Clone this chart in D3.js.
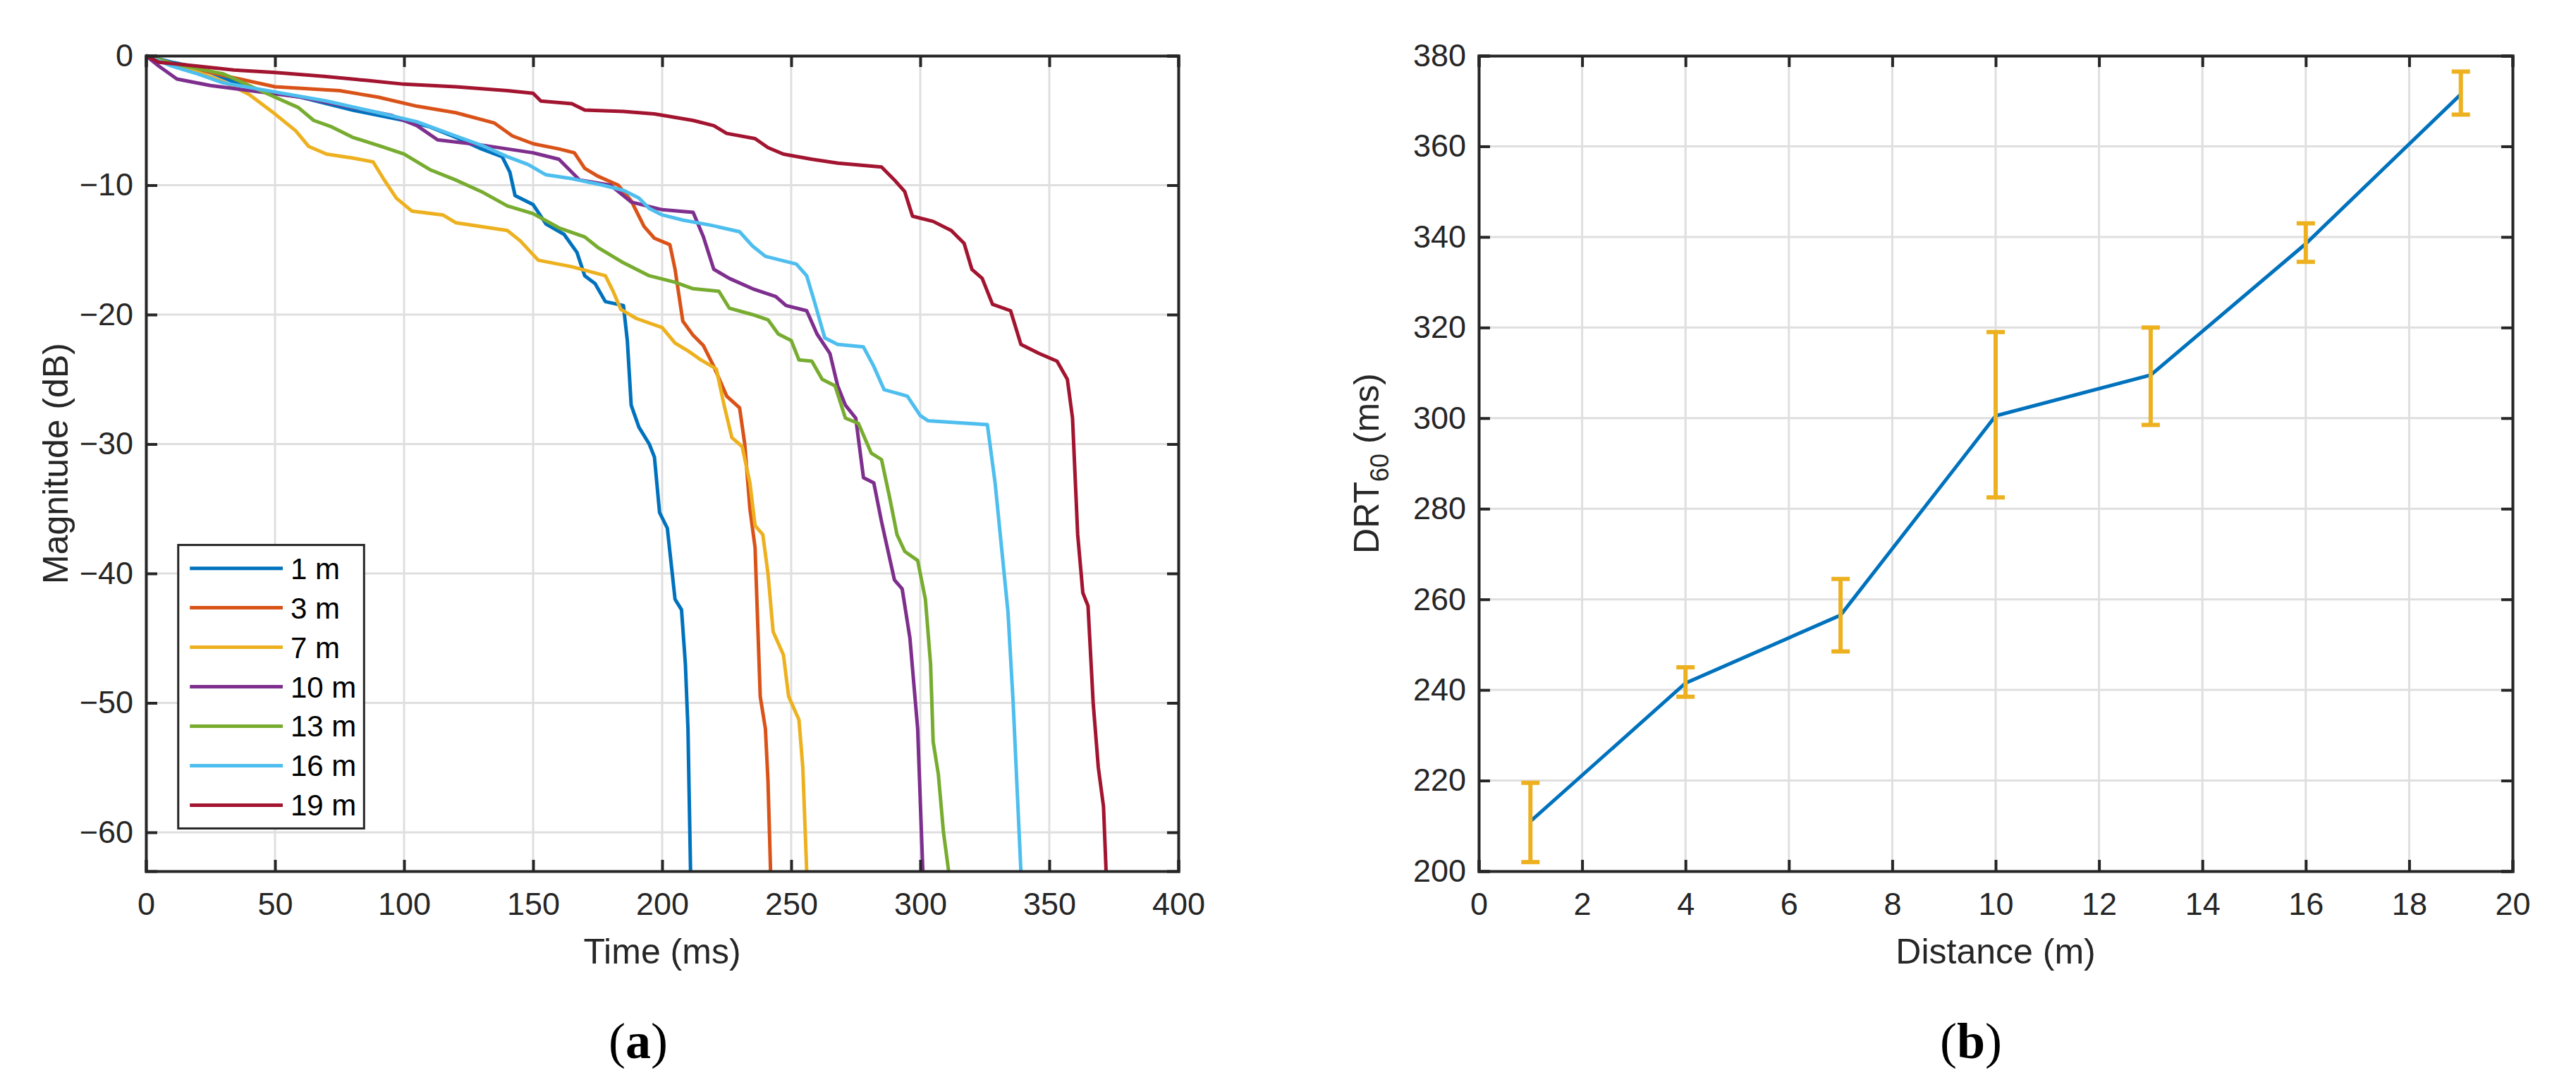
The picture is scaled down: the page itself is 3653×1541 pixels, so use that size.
<!DOCTYPE html>
<html>
<head>
<meta charset="utf-8">
<script src="https://cdn.jsdelivr.net/npm/d3@7"></script>
<style>
body { margin: 0; background: #fff; }
text { font-family: "Liberation Sans Narrow", "Liberation Sans", Arial, sans-serif; fill: #262626; }
</style>
</head>
<body>
<div></div>
<script>
// decay curves, [time ms, magnitude dB]
var curve1 = [[0,0],[10,-0.5],[20,-0.9],[40,-2.5],[60,-3.2],[80,-4.2],[100,-5],[110,-5.5],[120,-6.3],[130,-7.2],[138,-7.8],[141,-9],[143,-10.8],[150,-11.5],[155,-13],[162,-13.8],[167,-15.2],[170,-17],[174,-17.6],[178,-19],[185,-19.3],[186.5,-22],[188,-27],[191,-28.7],[195,-30],[197,-31],[199,-35.3],[202,-36.5],[205,-42],[207.5,-42.8],[209,-47],[210,-52],[211,-63]];
var curve3 = [[0,0],[10,-0.6],[25,-1.3],[50,-2.4],[75,-2.7],[90,-3.2],[105,-3.9],[120,-4.4],[135,-5.2],[142,-6.2],[150,-6.8],[160,-7.2],[166,-7.5],[170,-8.7],[175,-9.3],[183,-10],[188,-11.2],[193,-13.2],[197,-14.1],[203,-14.6],[205,-16.5],[208,-20.5],[212,-21.6],[216,-22.4],[220,-24],[225,-26.3],[230,-27.2],[232,-30],[234,-35],[236,-38],[238,-49.5],[240,-52],[241,-56],[242,-63]];
var curve7 = [[0,0],[15,-0.9],[30,-2],[40,-3],[50,-4.5],[58,-5.8],[63,-7],[70,-7.6],[80,-7.9],[88,-8.2],[92,-9.5],[97,-11],[103,-12],[115,-12.3],[120,-12.9],[140,-13.5],[145,-14.3],[152,-15.8],[165,-16.3],[178,-17],[181,-18.2],[184,-19.6],[190,-20.3],[200,-21],[205,-22.2],[210,-22.8],[215,-23.5],[221,-24.2],[224,-27],[227,-29.5],[231,-30.2],[234,-33],[236,-36.3],[239,-37],[241,-40],[243,-44.5],[247,-46.3],[249,-49.5],[253,-51.3],[254.5,-55],[256,-63]];
var curve10 = [[0,0],[5,-0.8],[12,-1.8],[25,-2.3],[60,-3.2],[80,-4],[95,-4.6],[105,-5.4],[113,-6.5],[130,-6.9],[150,-7.5],[160,-8],[168,-9.6],[180,-10],[188,-11.3],[200,-11.9],[212,-12.1],[216,-14],[220,-16.5],[226,-17.2],[235,-18],[244,-18.6],[248,-19.3],[256,-19.7],[260,-21.5],[265,-23],[268,-25.5],[271,-27],[275,-28],[278,-32.6],[282,-33],[285,-36],[290,-40.5],[293,-41.2],[296,-45],[299,-52],[301,-63]];
var curve13 = [[0,0],[10,-0.6],[20,-1],[30,-1.4],[40,-2.3],[50,-3.2],[59,-4],[65,-5],[72,-5.5],[80,-6.3],[91,-7],[100,-7.6],[110,-8.8],[120,-9.6],[130,-10.5],[140,-11.6],[150,-12.2],[160,-13.3],[170,-14],[175,-14.8],[185,-16],[195,-17],[205,-17.5],[212,-18],[222,-18.2],[226,-19.5],[235,-20],[241,-20.4],[245,-21.5],[250,-22],[253,-23.5],[258,-23.6],[262,-25],[267,-25.5],[271,-28],[276,-28.4],[281,-30.7],[285,-31.2],[288,-34],[291,-37],[294,-38.3],[299,-39],[302,-42],[304,-47],[305,-53],[307,-55.5],[309,-60],[311,-63]];
var curve16 = [[0,0],[10,-0.8],[20,-1.4],[30,-2.1],[50,-2.8],[70,-3.5],[90,-4.4],[105,-5.1],[120,-6.2],[131,-7],[140,-7.8],[148,-8.4],[155,-9.2],[165,-9.5],[177,-10],[185,-10.4],[191,-11],[195,-11.8],[200,-12.3],[208,-12.7],[219,-13.1],[230,-13.6],[235,-14.7],[240,-15.5],[246,-15.8],[252,-16.1],[256,-17],[259,-19],[263,-21.8],[268,-22.3],[278,-22.5],[282,-24],[286,-25.8],[295,-26.3],[300,-27.8],[303,-28.2],[326,-28.5],[329,-33],[331,-37],[334,-43],[336,-50],[339,-63]];
var curve19 = [[0,0],[5,-0.5],[20,-0.8],[34,-1.1],[50,-1.3],[69,-1.6],[85,-1.9],[100,-2.2],[120,-2.4],[140,-2.7],[150,-2.9],[153,-3.5],[165,-3.7],[170,-4.2],[185,-4.3],[197,-4.5],[212,-5],[220,-5.4],[225,-6],[236,-6.4],[241,-7.1],[247,-7.6],[258,-8],[268,-8.3],[285,-8.6],[290,-9.6],[294,-10.5],[297,-12.4],[305,-12.8],[312,-13.5],[317,-14.5],[320,-16.5],[324,-17.2],[328,-19.2],[335,-19.7],[339,-22.3],[346,-23],[353,-23.6],[357,-25],[359,-28],[361,-37],[363,-41.5],[365,-42.5],[367,-50],[369,-55],[371,-58],[372,-63]];

var seriesNames = ["1 m", "3 m", "7 m", "10 m", "13 m", "16 m", "19 m"];
var seriesCurves = [curve1, curve3, curve7, curve10, curve13, curve16, curve19];

// DRT60 vs distance
var distances = [1, 4, 7, 10, 13, 16, 19];
var drtMean = [211, 241.5, 256.5, 300.5, 309.5, 338.5, 371.5];
var drtLow = [202, 238.5, 248.5, 282.5, 298.5, 334.5, 367];
var drtHigh = [219.5, 245, 264.5, 319, 320, 343, 376.5];

var timeTicks = [0, 50, 100, 150, 200, 250, 300, 350, 400];
var magTicks = [0, -10, -20, -30, -40, -50, -60];
var distTicks = [0, 2, 4, 6, 8, 10, 12, 14, 16, 18, 20];
var drtTicks = [200, 220, 240, 260, 280, 300, 320, 340, 360, 380];

var colors = ["#0072BD", "#D95319", "#EDB120", "#7E2F8E", "#77AC30", "#4DBEEE", "#A2142F"];

var svg = d3.select("div").append("svg").attr("width", 3653).attr("height", 1541);
var top_ = 79, bottom = 1235;

function drawGrid(x, y, xTicks, yTicks) {
	var g = svg.append("g");
	var x0 = x.range()[0], x1 = x.range()[1];
	g.selectAll(".gx").data(xTicks).enter().append("line")
		.attr("x1", d => x(d)).attr("x2", d => x(d)).attr("y1", top_).attr("y2", bottom)
		.attr("stroke", "#dfdfdf").attr("stroke-width", 3);
	g.selectAll(".gy").data(yTicks).enter().append("line")
		.attr("x1", x0).attr("x2", x1).attr("y1", d => y(d)).attr("y2", d => y(d))
		.attr("stroke", "#dfdfdf").attr("stroke-width", 3);
}

function drawAxes(x, y, xTicks, yTicks) {
	var x0 = x.range()[0], x1 = x.range()[1];
	var ax = svg.append("g").attr("transform", "translate(0," + bottom + ")")
		.call(d3.axisBottom(x).tickValues(xTicks).tickSize(-16).tickPadding(30).tickFormat(d3.format("d")));
	var ay = svg.append("g").attr("transform", "translate(" + x0 + ",0)")
		.call(d3.axisLeft(y).tickValues(yTicks).tickSize(-16).tickPadding(18).tickFormat(d3.format("d")));
	var at = svg.append("g").attr("transform", "translate(0," + top_ + ")")
		.call(d3.axisTop(x).tickValues(xTicks).tickSize(-16).tickFormat(""));
	var ar = svg.append("g").attr("transform", "translate(" + x1 + ",0)")
		.call(d3.axisRight(y).tickValues(yTicks).tickSize(-16).tickFormat(""));
	[ax, ay, at, ar].forEach(a => {
		a.selectAll("path").attr("stroke", "#262626").attr("stroke-width", 4);
		a.selectAll("line").attr("stroke", "#262626").attr("stroke-width", 4);
		a.selectAll("text").style("font-size", "45px").attr("fill", "#262626")
			.style("font-family", '"Liberation Sans Narrow", "Liberation Sans", Arial, sans-serif');
	});
}

// ---- panel (a)
var xa = d3.scaleLinear().domain([0, 400]).range([207, 1671]);
var ya = d3.scaleLinear().domain([-63, 0]).range([bottom, top_]);
drawGrid(xa, ya, timeTicks, magTicks);

var line = d3.line().x(d => xa(d[0])).y(d => ya(d[1]));
seriesCurves.forEach((c, i) => {
	svg.append("path").datum(c).attr("d", line)
		.attr("fill", "none").attr("stroke", colors[i]).attr("stroke-width", 5)
		.attr("stroke-linejoin", "round");
});
drawAxes(xa, ya, timeTicks, magTicks);

// legend, placed in data units of panel (a)
var lg = svg.append("g");
lg.append("rect").attr("x", xa(12.5)).attr("y", ya(-37.8))
	.attr("width", xa(84.5) - xa(12.5)).attr("height", ya(-59.7) - ya(-37.8))
	.attr("fill", "#fff").attr("stroke", "#262626").attr("stroke-width", 3);
seriesNames.forEach((n, i) => {
	var yy = ya(-39.6 - i * 3.05);
	lg.append("line").attr("x1", xa(17)).attr("x2", xa(53)).attr("y1", yy).attr("y2", yy)
		.attr("stroke", colors[i]).attr("stroke-width", 5);
	lg.append("text").attr("x", xa(56)).attr("y", yy + 15).style("font-size", "42px").style("fill", "#000").text(n);
});

svg.append("text").attr("x", (207 + 1671) / 2).attr("y", 1366).attr("text-anchor", "middle")
	.style("font-size", "50px").text("Time (ms)");
svg.append("text").attr("transform", "translate(96," + (top_ + bottom) / 2 + ") rotate(-90)")
	.attr("text-anchor", "middle").style("font-size", "50px").text("Magnitude (dB)");

// ---- panel (b)
var xb = d3.scaleLinear().domain([0, 20]).range([2097, 3563]);
var yb = d3.scaleLinear().domain([200, 380]).range([bottom, top_]);
drawGrid(xb, yb, distTicks, drtTicks);

var drtPts = distances.map((d, i) => [d, drtMean[i]]);
svg.append("path").datum(drtPts)
	.attr("d", d3.line().x(d => xb(d[0])).y(d => yb(d[1])))
	.attr("fill", "none").attr("stroke", colors[0]).attr("stroke-width", 5);

var eb = svg.append("g").attr("stroke", colors[2]).attr("stroke-width", 6);
distances.forEach((d, i) => {
	eb.append("line").attr("x1", xb(d)).attr("x2", xb(d)).attr("y1", yb(drtLow[i])).attr("y2", yb(drtHigh[i]));
	[drtLow[i], drtHigh[i]].forEach(v => {
		eb.append("line").attr("x1", xb(d) - 13).attr("x2", xb(d) + 13).attr("y1", yb(v)).attr("y2", yb(v));
	});
});
drawAxes(xb, yb, distTicks, drtTicks);

svg.append("text").attr("x", (2097 + 3563) / 2).attr("y", 1366).attr("text-anchor", "middle")
	.style("font-size", "50px").text("Distance (m)");
var yl = svg.append("text").attr("transform", "translate(1955," + (top_ + bottom) / 2 + ") rotate(-90)")
	.attr("text-anchor", "middle").style("font-size", "50px");
yl.append("tspan").text("DRT");
yl.append("tspan").attr("dy", 14).style("font-size", "36px").text("60");
yl.append("tspan").attr("dy", -14).text(" (ms)");

// captions
[["a", 905], ["b", 2795]].forEach(c => {
	var t = svg.append("text").attr("x", c[1]).attr("y", 1500).attr("text-anchor", "middle")
		.style("font-family", '"Liberation Serif", "DejaVu Serif", serif').style("font-size", "72px").style("fill", "#000");
	t.append("tspan").text("(");
	t.append("tspan").style("font-weight", "bold").text(c[0]);
	t.append("tspan").text(")");
});
</script>
</body>
</html>
